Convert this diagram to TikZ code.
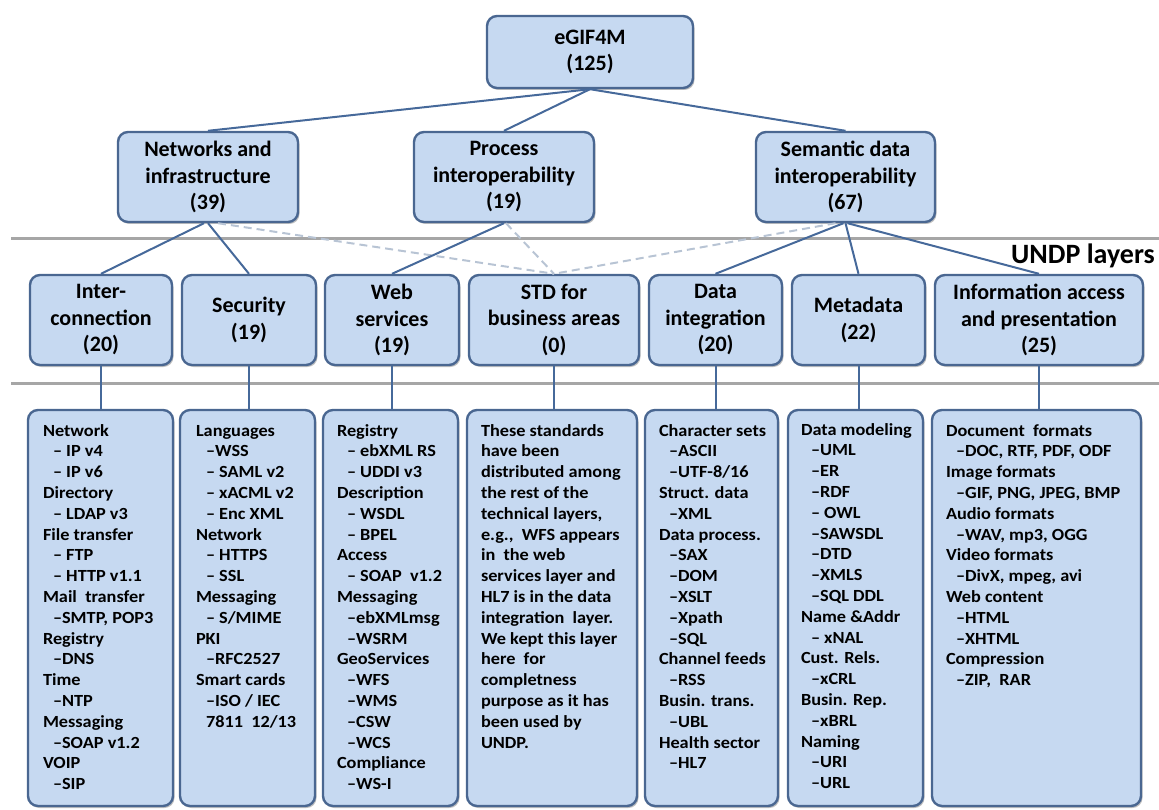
\documentclass[tikz,border=0pt]{standalone}
\usepackage{fontspec}
\setmainfont{Carlito}
\newfontfamily\listfont[FakeStretch=1.075]{Carlito}
\usetikzlibrary{shadows}
\definecolor{boxfill}{RGB}{198,217,241}
\definecolor{boxdraw}{RGB}{74,103,145}
\definecolor{conn}{RGB}{70,105,154}
\definecolor{sepgray}{RGB}{166,166,166}
\definecolor{dashc}{RGB}{184,196,212}
\newcommand\ix[1]{\hspace*{10pt}#1}
\tikzset{
  box/.style={draw=boxdraw, line width=2.4pt, fill=boxfill, rounded corners=10pt,
    drop shadow={shadow xshift=1.5pt, shadow yshift=-2pt, opacity=.35, fill=black!70},
    align=center, inner sep=0pt, font=\fontsize{22}{26.5}\selectfont\bfseries},
  listtext/.style={anchor=base west, inner sep=0pt, font=\listfont\fontsize{17}{20.8}\selectfont\bfseries},
  link/.style={draw=conn, line width=2pt},
  faint/.style={draw=dashc, line width=2pt, dash pattern=on 8pt off 5pt},
  sep/.style={draw=sepgray, line width=3pt}
}
\begin{document}
\begin{tikzpicture}[x=1pt,y=-1pt]
\useasboundingbox (0,0) rectangle (1159,810);
% separator lines
\draw[sep] (11,239) -- (1159,239);
\draw[sep] (11,383) -- (1159,383);
\node[anchor=east, inner sep=0pt, font=\fontsize{28}{32}\selectfont\bfseries] (undp) at (1155,256) {UNDP layers};

% top
\node[box, minimum width=206pt, minimum height=72pt] (top) at (590,52) {eGIF4M\\(125)};
% second level
\node[box, minimum width=180pt, minimum height=90pt] (net) at (208,177) {Networks and\\infrastructure\\(39)};
\node[box, minimum width=180pt, minimum height=90pt] (proc) at (504,177) {Process\\interoperability\\(19)};
\node[box, minimum width=179pt, minimum height=90pt] (sem) at (845.5,177) {Semantic data\\interoperability\\(67)};
% UNDP layers
\node[box, minimum width=142pt, minimum height=90pt] (inter) at (101,320) {Inter-\\connection\\(20)};
\node[box, minimum width=134pt, minimum height=90pt] (secu) at (249,320) {Security\\(19)};
\node[box, minimum width=134pt, minimum height=90pt] (web) at (392,320) {Web\\services\\(19)};
\node[box, minimum width=170pt, minimum height=90pt] (std) at (554,320) {STD for\\business areas\\(0)};
\node[box, minimum width=133pt, minimum height=90pt] (dint) at (715.5,320) {Data\\integration\\(20)};
\node[box, minimum width=133pt, minimum height=90pt] (meta) at (858.5,320) {Metadata\\(22)};
\node[box, minimum width=208pt, minimum height=90pt] (info) at (1039,320) {Information access\\and presentation\\(25)};

% bottom boxes
\node[box, minimum width=145pt, minimum height=396pt] (b1) at (100.5,608) {};
\node[box, minimum width=135pt, minimum height=396pt] (b2) at (247.5,608) {};
\node[box, minimum width=135pt, minimum height=396pt] (b3) at (390.5,608) {};
\node[box, minimum width=170pt, minimum height=396pt] (b4) at (552,608) {};
\node[box, minimum width=133pt, minimum height=396pt] (b5) at (711.5,608) {};
\node[box, minimum width=135pt, minimum height=396pt] (b6) at (855.5,608) {};
\node[box, minimum width=209pt, minimum height=396pt] (b7) at (1036.5,608) {};

% connectors (dashed first)
\draw[faint] ([xshift=10pt]net.south) -- (std.north);
\draw[faint] ([xshift=2pt]proc.south) -- (std.north);
\draw[faint] ([xshift=-10pt]sem.south) -- (std.north);

\draw[link] (top.south) -- (net.north);
\draw[link] (top.south) -- (proc.north);
\draw[link] (top.south) -- (sem.north);
\draw[link] ([xshift=-4pt]net.south) -- (inter.north);
\draw[link] (net.south) -- (secu.north);
\draw[link] (proc.south) -- (web.north);
\draw[link] ([xshift=-2pt]sem.south) -- (dint.north);
\draw[link] (sem.south) -- (meta.north);
\draw[link] ([xshift=2pt]sem.south) -- (info.north);

\draw[link] (inter.south) -- (inter.south |- b1.north);
\draw[link] (secu.south) -- (secu.south |- b2.north);
\draw[link] (web.south) -- (web.south |- b3.north);
\draw[link] (std.south) -- (std.south |- b4.north);
\draw[link] (dint.south) -- (dint.south |- b5.north);
\draw[link] (meta.south) -- (meta.south |- b6.north);
\draw[link] (info.south) -- (info.south |- b7.north);

% list texts
\node[listtext] (t1) at ([xshift=16pt]b1.west |- 0,436) {\begin{tabular}[t]{@{}l@{}}
Network\\ \ix{– IP v4}\\ \ix{– IP v6}\\ Directory\\ \ix{– LDAP v3}\\ File transfer\\ \ix{– FTP}\\ \ix{– HTTP v1.1}\\
Mail\ \ transfer\\ \ix{–SMTP, POP3}\\ Registry\\ \ix{–DNS}\\ Time\\ \ix{–NTP}\\ Messaging\\ \ix{–SOAP v1.2}\\ VOIP\\ \ix{–SIP}
\end{tabular}};
\node[listtext] (t2) at ([xshift=17pt]b2.west |- 0,436) {\begin{tabular}[t]{@{}l@{}}
Languages\\ \ix{–WSS}\\ \ix{– SAML v2}\\ \ix{– xACML v2}\\ \ix{– Enc XML}\\ Network\\ \ix{– HTTPS}\\ \ix{– SSL}\\
Messaging\\ \ix{– S/MIME}\\ PKI\\ \ix{–RFC2527}\\ Smart cards\\ \ix{–ISO / IEC}\\ \ix{7811\ \ 12/13}
\end{tabular}};
\node[listtext] (t3) at ([xshift=15pt]b3.west |- 0,436) {\begin{tabular}[t]{@{}l@{}}
Registry\\ \ix{– ebXML RS}\\ \ix{– UDDI v3}\\ Description\\ \ix{– WSDL}\\ \ix{– BPEL}\\ Access\\ \ix{– SOAP\ \ v1.2}\\
Messaging\\ \ix{–ebXMLmsg}\\ \ix{–WSRM}\\ GeoServices\\ \ix{–WFS}\\ \ix{–WMS}\\ \ix{–CSW}\\ \ix{–WCS}\\ Compliance\\ \ix{–WS-I}
\end{tabular}};
\node[listtext] (t4) at ([xshift=15pt]b4.west |- 0,436) {\begin{tabular}[t]{@{}l@{}}
These standards\\ have been\\ distributed among\\ the rest of the\\ technical layers,\\ e.g.,\ \ WFS appears\\ in\ \ the web\\
services layer and\\ HL7 is in the data\\ integration\ \ layer.\\ We kept this layer\\ here\ \ for\\ completness\\
purpose as it has\\ been used by\\ UNDP.
\end{tabular}};
\node[listtext] (t5) at ([xshift=15pt]b5.west |- 0,436) {\begin{tabular}[t]{@{}l@{}}
Character sets\\ \ix{–ASCII}\\ \ix{–UTF-8/16}\\ Struct. data\\ \ix{–XML}\\ Data process.\\ \ix{–SAX}\\ \ix{–DOM}\\ \ix{–XSLT}\\
\ix{–Xpath}\\ \ix{–SQL}\\ Channel feeds\\ \ix{–RSS}\\ Busin. trans.\\ \ix{–UBL}\\ Health sector\\ \ix{–HL7}
\end{tabular}};
\node[listtext] (t6) at ([xshift=14pt]b6.west |- 0,435) {\begin{tabular}[t]{@{}l@{}}
Data modeling\\ \ix{–UML}\\ \ix{–ER}\\ \ix{–RDF}\\ \ix{– OWL}\\ \ix{–SAWSDL}\\ \ix{–DTD}\\ \ix{–XMLS}\\ \ix{–SQL DDL}\\
Name \&Addr\\ \ix{– xNAL}\\ Cust. Rels.\\ \ix{–xCRL}\\ Busin. Rep.\\ \ix{–xBRL}\\ Naming\\ \ix{–URI}\\ \ix{–URL}
\end{tabular}};
\node[listtext] (t7) at ([xshift=15pt]b7.west |- 0,436) {\begin{tabular}[t]{@{}l@{}}
Document\ \ formats\\ \ix{–DOC, RTF, PDF, ODF}\\ Image formats\\ \ix{–GIF, PNG, JPEG, BMP}\\ Audio formats\\
\ix{–WAV, mp3, OGG}\\ Video formats\\ \ix{–DivX, mpeg, avi}\\ Web content\\ \ix{–HTML}\\ \ix{–XHTML}\\ Compression\\ \ix{–ZIP,\ \ RAR}
\end{tabular}};
\end{tikzpicture}
\end{document}
